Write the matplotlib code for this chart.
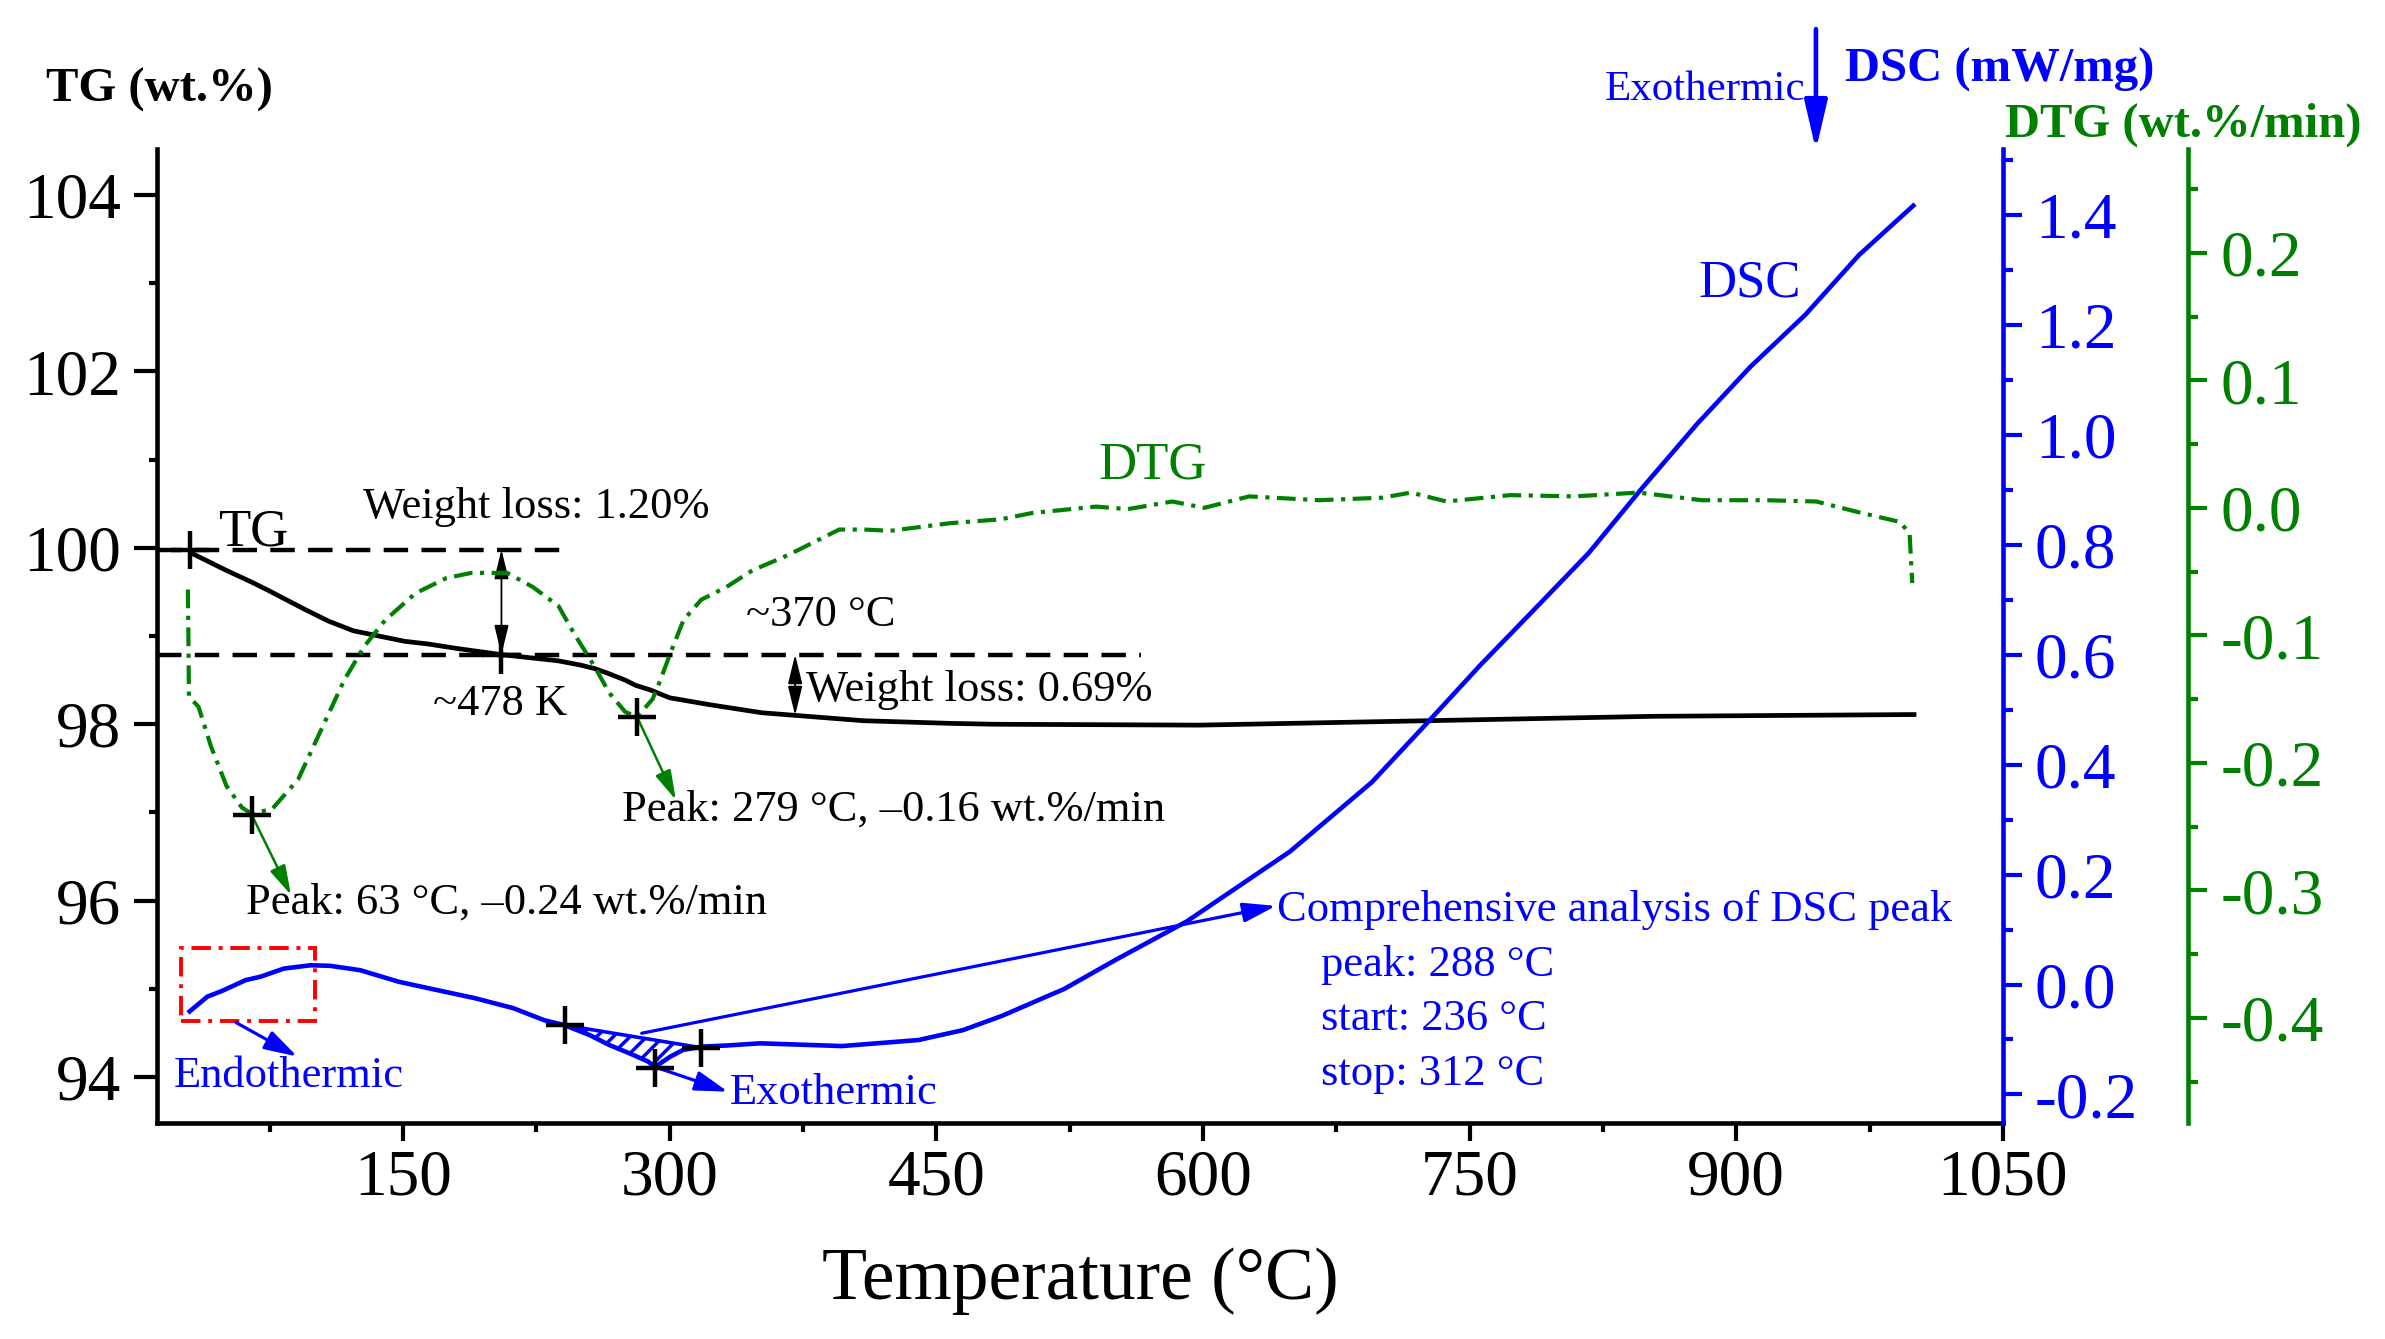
import numpy as np
import matplotlib
matplotlib.use("Agg")
import matplotlib.pyplot as plt
from matplotlib.ticker import MultipleLocator, FuncFormatter
from matplotlib.patches import Rectangle, FancyArrowPatch

plt.rcParams['font.family'] = ['Liberation Serif', 'DejaVu Serif']
plt.rcParams['axes.unicode_minus'] = False
plt.rcParams['hatch.linewidth'] = 2.5

BLUE = '#0000FF'
GREEN = '#008000'
RED = '#FF0000'

# TG curve (wt.%)
tg_t = [30, 31, 50, 65, 74, 94, 108, 122, 134, 151, 164, 180, 205, 237, 250, 258, 265,
        275, 281, 289, 300, 323, 352, 371, 409, 458, 483, 598, 726, 853, 1000]
tg_w = [99.98, 99.94, 99.75, 99.61, 99.52, 99.31, 99.17, 99.06, 99.01, 98.94, 98.91, 98.86,
        98.79, 98.72, 98.67, 98.63, 98.58, 98.50, 98.44, 98.39, 98.30, 98.22, 98.13, 98.10,
        98.04, 98.01, 98.00, 97.99, 98.04, 98.09, 98.11]

# DTG curve (wt.%/min)
dtg_t = [29.0, 29.3, 29.6, 35, 42, 50.7, 59.4, 65, 76.5, 91, 105, 117, 128, 140, 157, 174.5,
         188.5, 208.6, 223, 237.5, 246, 257.6, 266, 275, 281.7, 290.4, 294.8, 300.4, 307.8,
         317.8, 332, 346.6, 366.7, 381, 395.4, 409.5, 424, 457.8, 486, 504, 540, 557.6,
         582.8, 600.7, 626, 665.4, 701, 717, 737, 773, 809, 845, 880.6, 916, 945, 970.5,
         992, 997.5, 999]
dtg_v = [-0.064, -0.100, -0.148, -0.156, -0.187, -0.218, -0.235, -0.240, -0.236, -0.213,
         -0.171, -0.135, -0.109, -0.088, -0.067, -0.055, -0.051, -0.051, -0.062, -0.077,
         -0.098, -0.124, -0.145, -0.160, -0.164, -0.150, -0.135, -0.114, -0.088, -0.072,
         -0.062, -0.049, -0.037, -0.027, -0.017, -0.017, -0.018, -0.012, -0.009, -0.004,
         0.001, -0.001, 0.005, 0.000, 0.009, 0.006, 0.008, 0.012, 0.005, 0.010, 0.009,
         0.012, 0.006, 0.006, 0.005, -0.004, -0.011, -0.020, -0.059]

# DSC curve (mW/mg)
dsc_t = [30, 40, 48, 61.5, 69.7, 83, 98, 109, 126, 147.6, 169, 190.6, 212, 229.5, 240.9,
         255, 266, 278, 287.8, 291.7, 300.5, 307.6, 318, 332, 351, 397, 440, 465, 487, 522,
         551, 591, 649, 695, 725, 756, 786, 817, 847, 878, 908, 939, 969, 999.6]
dsc_v = [-0.049, -0.022, -0.012, 0.008, 0.014, 0.029, 0.035, 0.034, 0.026, 0.005, -0.010,
         -0.025, -0.043, -0.065, -0.074, -0.092, -0.110, -0.126, -0.140, -0.150, -0.131,
         -0.119, -0.113, -0.111, -0.107, -0.112, -0.101, -0.083, -0.057, -0.008, 0.045,
         0.115, 0.242, 0.368, 0.472, 0.581, 0.681, 0.785, 0.903, 1.020, 1.124, 1.219,
         1.327, 1.417]

# DSC peak analysis points (start, peak, stop)
dsc_mark_t = [240.9, 291.7, 317.7]
dsc_mark_v = [-0.074, -0.151, -0.115]
dtg_peak_t = [65.0, 281.7]
dtg_peak_v = [-0.241, -0.164]
tg_mark_t = [30, 205.4]
tg_mark_w = [99.98, 98.79]

fig = plt.figure(figsize=(23.85, 13.39), dpi=100)
ax = fig.add_axes([0.0658, 0.1613, 0.7740, 0.7274])
ax2 = ax.twinx()
ax3 = ax.twinx()

# ---- TG
ax.plot(tg_t, tg_w, color='k', lw=3.4, zorder=3)
ax.plot(tg_mark_t, tg_mark_w, ls='none', marker='+', ms=27, mew=3.2, color='k', zorder=5)
ax.plot([11.6, 242], [99.98, 99.98], color='k', lw=3.2, dashes=(5.5, 3))
ax.plot([11.6, 565], [98.79, 98.79], color='k', lw=3.2, dashes=(5.5, 3))
dbl = dict(arrowstyle='<|-|>,head_length=0.9,head_width=0.22', color='k', lw=1.3,
           mutation_scale=20, shrinkA=0, shrinkB=0)
ax.annotate('', xy=(205.4, 98.79), xytext=(205.4, 99.98), arrowprops=dbl)
ax.annotate('', xy=(370.6, 98.10), xytext=(370.6, 98.79), arrowprops=dbl)

fs_ann = 32
ax.text(46, 100.03, 'TG', fontsize=38, va='baseline')
ax.text(127.5, 100.34, 'Weight loss: 1.20%', fontsize=fs_ann, va='baseline')
ax.text(343, 99.11, '~370 °C', fontsize=fs_ann, va='baseline')
ax.text(167, 98.10, '~478 K', fontsize=fs_ann, va='baseline')
ax.text(376.5, 98.26, 'Weight loss: 0.69%', fontsize=fs_ann, va='baseline')
ax.text(273.2, 96.91, 'Peak: 279 °C, –0.16 wt.%/min', fontsize=fs_ann, va='baseline')
ax.text(61.5, 95.86, 'Peak: 63 °C, –0.24 wt.%/min', fontsize=fs_ann, va='baseline')
ax.text(541, 100.79, 'DTG', fontsize=38, color=GREEN, va='baseline')
ax.text(879, 102.85, 'DSC', fontsize=38, color=BLUE, va='baseline')
ax.text(21, 93.89, 'Endothermic', fontsize=fs_ann, color=BLUE, va='baseline')
ax.text(334, 93.70, 'Exothermic', fontsize=fs_ann, color=BLUE, va='baseline')
ax.text(641.8, 95.77, 'Comprehensive analysis of DSC peak', fontsize=fs_ann, color=BLUE,
        va='baseline')
ax.text(666.5, 95.15, 'peak: 288 °C', fontsize=fs_ann, color=BLUE, va='baseline')
ax.text(666.5, 94.53, 'start: 236 °C', fontsize=fs_ann, color=BLUE, va='baseline')
ax.text(666.5, 93.91, 'stop: 312 °C', fontsize=fs_ann, color=BLUE, va='baseline')

# ---- DTG
ax3.plot(dtg_t, dtg_v, color=GREEN, lw=3.0, dashes=(4.5, 1.8, 1, 1.8), zorder=3)
ax3.plot(dtg_peak_t, dtg_peak_v, ls='none', marker='+', ms=27, mew=3.2, color='k', zorder=5)
garr = dict(arrowstyle='-|>,head_length=0.9,head_width=0.25', color=GREEN, lw=1.8,
            mutation_scale=20, shrinkA=0, shrinkB=0)
ax3.annotate('', xy=(87.0, -0.3035), xytext=(dtg_peak_t[0], dtg_peak_v[0]), arrowprops=garr)
ax3.annotate('', xy=(303.5, -0.229), xytext=(dtg_peak_t[1], dtg_peak_v[1]), arrowprops=garr)

# ---- DSC
ax2.plot(dsc_t, dsc_v, color=BLUE, lw=3.3, zorder=3)
ax2.plot(dsc_mark_t, dsc_mark_v, ls='none', marker='+', ms=27, mew=3.2, color='k', zorder=6)
ax2.plot([dsc_mark_t[0], dsc_mark_t[2]], [dsc_mark_v[0], dsc_mark_v[2]], color=BLUE, lw=2.6)
seg_t = np.array([t for t in dsc_t if dsc_mark_t[0] <= t <= dsc_mark_t[2]])
seg_v = np.array([v for t, v in zip(dsc_t, dsc_v) if dsc_mark_t[0] <= t <= dsc_mark_t[2]])
base_v = np.interp(seg_t, [dsc_mark_t[0], dsc_mark_t[2]], [dsc_mark_v[0], dsc_mark_v[2]])
ax2.fill_between(seg_t, seg_v, base_v, facecolor='none', edgecolor=BLUE, hatch='//', lw=0)
barr = dict(arrowstyle='-|>,head_length=1.0,head_width=0.3', color=BLUE, lw=2.3,
            mutation_scale=20, shrinkA=0, shrinkB=0)
ax2.annotate('', xy=(641.0, 0.143), xytext=(284.3, -0.0887), arrowprops=barr)
ax2.annotate('', xy=(90.5, -0.131), xytext=(56, -0.069), arrowprops=barr)
ax2.annotate('', xy=(332.8, -0.195), xytext=(291.7, -0.150), arrowprops=barr)
ax2.add_patch(Rectangle((25.3, -0.067), 75.2, 0.133, fill=False, edgecolor=RED, lw=2.8,
                        ls=(0, (5, 2, 1, 2))))

# ---- axes setup
ax.set_xlim(11.6, 1050)
ax.set_ylim(93.48, 104.52)
ax2.set_ylim(-0.252, 1.52)
ax3.set_ylim(-0.4824, 0.2814)

ax.xaxis.set_major_locator(MultipleLocator(150))
ax.xaxis.set_minor_locator(MultipleLocator(75))
ax.yaxis.set_major_locator(MultipleLocator(2))
ax.yaxis.set_minor_locator(MultipleLocator(1))
ax2.yaxis.set_major_locator(MultipleLocator(0.2))
ax2.yaxis.set_minor_locator(MultipleLocator(0.1))
ax3.yaxis.set_major_locator(MultipleLocator(0.1))
ax3.yaxis.set_minor_locator(MultipleLocator(0.05))
fmt1 = FuncFormatter(lambda v, p: ('%.1f' % v).replace('-0.0', '0.0'))
ax2.yaxis.set_major_formatter(fmt1)
ax3.yaxis.set_major_formatter(fmt1)

sw = 3.3
for a in (ax, ax2, ax3):
    for s in a.spines.values():
        s.set_visible(False)
ax.spines['left'].set_visible(True)
ax.spines['bottom'].set_visible(True)
ax.spines['left'].set_linewidth(sw)
ax.spines['bottom'].set_linewidth(sw)
ax2.spines['right'].set_visible(True)
ax2.spines['right'].set_linewidth(sw)
ax2.spines['right'].set_color(BLUE)
ax3.spines['right'].set_visible(True)
ax3.spines['right'].set_linewidth(sw)
ax3.spines['right'].set_color(GREEN)
ax3.spines['right'].set_position(('axes', 1.1005))

ax.tick_params(axis='x', which='major', direction='out', length=13, width=3, labelsize=47, pad=6)
ax.tick_params(axis='x', which='minor', direction='out', length=6.5, width=3)
ax.tick_params(axis='y', which='major', direction='out', length=16.5, width=3, labelsize=47, pad=9)
ax.tick_params(axis='y', which='minor', direction='out', length=6, width=3)
for a, c in ((ax2, BLUE), (ax3, GREEN)):
    a.tick_params(axis='y', which='major', direction='out', length=14, width=3, labelsize=47,
                  pad=9, colors=c)
    a.tick_params(axis='y', which='minor', direction='out', length=7, width=3, colors=c)

ax.set_xlabel('Temperature (°C)', fontsize=53)
ax.xaxis.set_label_coords(0.5, -0.1807)
ax.xaxis.label.set_verticalalignment('baseline')

ax.set_ylabel('TG (wt.%)', fontsize=35, fontweight='bold', rotation=0, ha='left', va='baseline')
ax.yaxis.set_label_coords(-0.0601, 1.0485)
ax2.set_ylabel('DSC (mW/mg)', fontsize=35, fontweight='bold', rotation=0, ha='left',
               va='baseline', color=BLUE)
ax2.yaxis.set_label_coords(0.9144, 1.0688)
ax3.set_ylabel('DTG (wt.%/min)', fontsize=35, fontweight='bold', rotation=0, ha='left',
               va='baseline', color=GREEN)
ax3.yaxis.set_label_coords(1.0011, 1.0123)

fig.text(0.7568, 0.9253, 'Exothermic', fontsize=31, color=BLUE, ha='right', va='baseline')
fig.add_artist(FancyArrowPatch(
    (0.7614, 0.9783), (0.7614, 0.888), transform=fig.transFigure,
    arrowstyle='-|>,head_length=1.5,head_width=0.35', mutation_scale=20,
    color=BLUE, lw=3.3, shrinkA=0, shrinkB=0))

fig.savefig('out.png', dpi=100)
